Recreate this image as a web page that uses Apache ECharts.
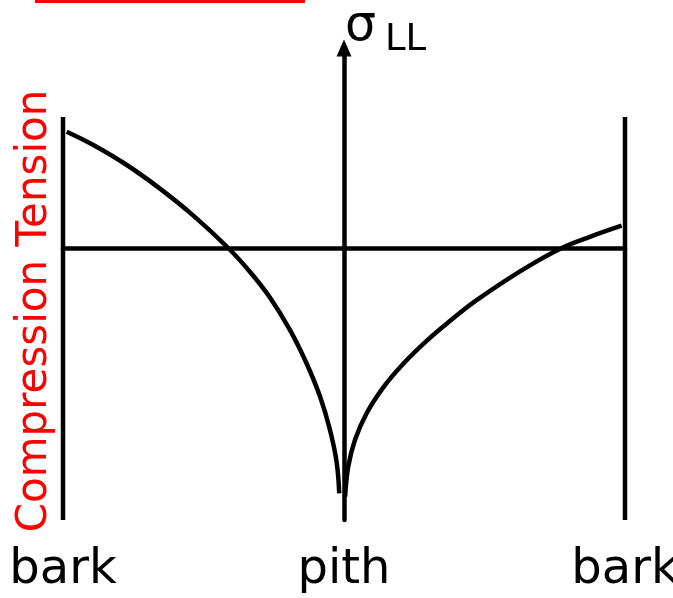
<!DOCTYPE html>
<html>
<head>
    <meta charset="utf-8">
    <title>σLL bark - pith - bark</title>
    <script src="https://cdn.jsdelivr.net/npm/echarts@6/dist/echarts.min.js"></script>
</head>
<body style="margin:0;background:#fff;">
<div id="chart-container" style="width: 673px; height: 598px;"></div>
<script>
    // position across the log: -1 = left bark, 0 = pith, 1 = right bark
    var tickPositions = [-1, 0, 1];
    var tickLabels = ['bark', 'pith', 'bark'];

    // longitudinal stress, left half (bark -> pith)
    var leftX = [-0.987, -0.892, -0.773, -0.655, -0.536, -0.412, -0.335, -0.263, -0.192, -0.133, -0.085, -0.050, -0.026, -0.017];
    var leftY = [1.163, 1.03, 0.83, 0.594, 0.324, 0.00, -0.237, -0.497, -0.821, -1.155, -1.488, -1.818, -2.146, -2.453];

    // right half (pith -> bark)
    var rightX = [0.004, 0.015, 0.039, 0.081, 0.140, 0.211, 0.294, 0.377, 0.472, 0.638, 0.775, 0.875, 0.988];
    var rightY = [-2.487, -2.187, -1.919, -1.65, -1.393, -1.157, -0.928, -0.73, -0.522, -0.214, 0.00, 0.112, 0.223];

    // bark edges
    var barkTop = 1.31;
    var yMin = -2.72;
    var yMax = 2.00;

    function pairs(xs, ys) {
        var out = [];
        for (var i = 0; i < xs.length; i++) out.push([xs[i], ys[i]]);
        return out;
    }

    var lineStyle = { color: '#000', width: 4.5 };

    var option1 = {
        backgroundColor: '#fff',
        animation: false,
        grid: { left: 63, right: 48, top: 48, bottom: 78, outerBoundsMode: 'none', containLabel: false },
        xAxis: [
            {
                type: 'value', min: -1, max: 1,
                axisLine: { show: true, onZero: true, lineStyle: { color: '#000', width: 4.5 } },
                axisTick: { show: false },
                axisLabel: { show: false },
                splitLine: { show: false }
            },
            {
                type: 'value', min: -1, max: 1, interval: 1, position: 'bottom',
                axisLine: { show: false, onZero: false },
                axisTick: { show: false },
                splitLine: { show: false },
                axisLabel: {
                    margin: 27,
                    color: '#000',
                    fontFamily: 'DejaVu Sans',
                    fontSize: 48,
                    formatter: function (v) {
                        var i = tickPositions.indexOf(Math.round(v));
                        return i >= 0 ? tickLabels[i] : '';
                    }
                }
            }
        ],
        yAxis: {
            type: 'value', min: yMin, max: yMax,
            axisLine: {
                show: true, onZero: true,
                symbol: ['none', 'triangle'], symbolSize: [15, 17],
                lineStyle: { color: '#000', width: 4.5 }
            },
            axisTick: { show: false },
            axisLabel: { show: false },
            splitLine: { show: false }
        },
        graphic: [
            { type: 'rect', shape: { x: 35, y: 0, width: 270, height: 3 }, style: { fill: '#ff0000' } },
            {
                type: 'text', x: 35, y: 311, rotation: Math.PI / 2,
                style: {
                    text: 'Compression Tension', fill: '#ff0000',
                    font: '42px "DejaVu Sans"', align: 'center', verticalAlign: 'middle'
                }
            },
            {
                type: 'text', x: 345, y: 27,
                style: { text: 'σ', fill: '#000', font: '49px "DejaVu Sans"', align: 'left', verticalAlign: 'middle' }
            },
            {
                type: 'text', x: 385, y: 40,
                style: { text: 'LL', fill: '#000', font: '37px "DejaVu Sans"', align: 'left', verticalAlign: 'middle' }
            }
        ],
        series: [
            { type: 'line', xAxisIndex: 0, data: pairs(leftX, leftY), smooth: 0.4, showSymbol: false, clip: false, lineStyle: lineStyle },
            { type: 'line', xAxisIndex: 0, data: pairs(rightX, rightY), smooth: 0.4, showSymbol: false, clip: false, lineStyle: lineStyle },
            { type: 'line', xAxisIndex: 0, data: [[-1, yMin], [-1, barkTop]], showSymbol: false, clip: false, lineStyle: lineStyle },
            { type: 'line', xAxisIndex: 0, data: [[1, yMin], [1, barkTop]], showSymbol: false, clip: false, lineStyle: lineStyle }
        ]
    };

    var chart = echarts.init(document.getElementById('chart-container'));
    chart.setOption(option1);
</script>
</body>
</html>
